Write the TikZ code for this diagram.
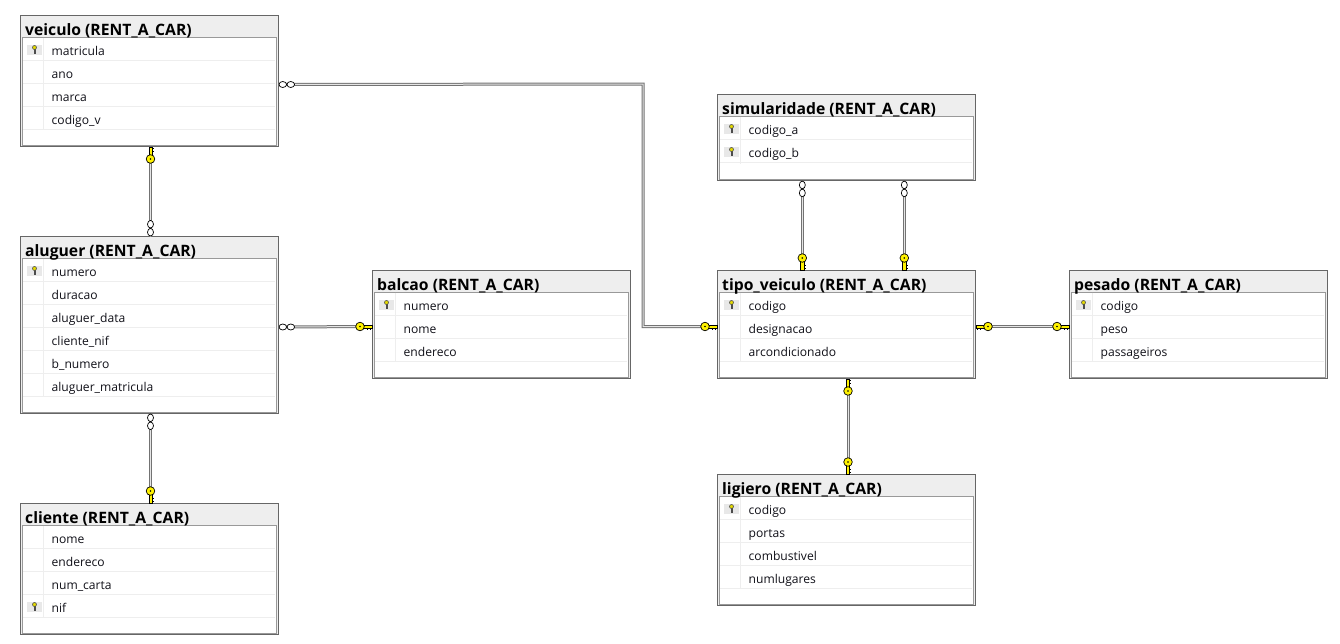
\documentclass[tikz,border=0pt]{standalone}
\usepackage{fontspec}
\setmainfont{Open Sans}
\usetikzlibrary{positioning}
\definecolor{headgray}{HTML}{EEEEEE}
\definecolor{framegray}{HTML}{666666}
\definecolor{innergray}{HTML}{999999}
\definecolor{keyyellow}{HTML}{FFF200}
\definecolor{icongray}{HTML}{E8E8E8}
\definecolor{inkblack}{HTML}{101018}

\tikzset{
    tablebox/.style={rectangle, draw=framegray, line width=1pt, fill=headgray, minimum width=258pt, anchor=north west, inner sep=0pt, outer sep=0pt},
    titletext/.style={anchor=base west, inner sep=0pt, font=\fontsize{15.7}{18}\selectfont\bfseries, text=black},
    rowtext/.style={anchor=base west, inner sep=0pt, font=\fontsize{12.1}{14}\selectfont, text=inkblack},
    relation/.style={draw=black!55, line width=1pt, double=white!90!black, double distance=1pt},
    infend/.pic={
        \draw[black, fill=white, line width=0.7pt] (4.3pt,0) ellipse (3.8pt and 3pt);
        \draw[black, fill=white, line width=0.7pt] (12.3pt,0) ellipse (3.8pt and 3pt);
    },
    keyend/.pic={
        \fill[black] (1.5pt,-1pt) rectangle (2.6pt,-3.4pt);
        \fill[black] (4.5pt,-1pt) rectangle (5.6pt,-3.4pt);
        \draw[black, fill=keyyellow, line width=0.5pt] (0.5pt,-1.6pt) rectangle (9pt,1.6pt);
        \draw[black, fill=keyyellow, line width=0.7pt] (12.5pt,0) circle (4.3pt);
        \fill[black] (12.5pt,0) circle (0.9pt);
    },
    rowkey/.pic={
        \fill[icongray] (-7.5pt,-5pt) rectangle (7pt,5pt);
        \draw[black!70, fill=keyyellow!80!olive, line width=0.5pt] (-0.7pt,-4pt) rectangle (0.7pt,1pt);
        \fill[black!70] (0.7pt,-3.5pt) rectangle (1.8pt,-2.7pt);
        \draw[black!70, fill=keyyellow!80!olive, line width=0.6pt] (0,2pt) circle (2pt);
    },
}

% name, left, top, number of rows, title, rows
\newcommand{\dbtable}[6]{
    \node[tablebox, minimum height={39pt+23pt*#4}] (#1) at (#2,#3) {};
    \begin{scope}[shift={(#2,#3)}]
        \fill[white] (2,22) rectangle (256,{37+23*#4});
        \draw[innergray, line width=0.9pt] (2,22) rectangle (256,{37.5+23*#4});
        \node[titletext] (#1-title) at (4.5,20) {#5};
        \draw[headgray, line width=0.8pt] (23,22) -- (23,{22+23*#4});
        \foreach \rowname/\iskey [count=\n] in {#6} {
            \node[rowtext] (#1-row\n) at (31,{16.5+23*\n}) {\rowname};
            \draw[headgray, line width=0.8pt] (2.5,{22+23*\n}) -- (254,{22+23*\n});
            \ifnum\iskey=1
                \pic at (14,{11+23*\n}) {rowkey};
            \fi
        }
    \end{scope}
}

\begin{document}
\begin{tikzpicture}[x=1pt,y=-1pt]
    \useasboundingbox[fill=white] (0,0) rectangle (1340,643);

    % Tables
    \dbtable{veiculo}{20.5}{15.5}{4}{veiculo (RENT\_A\_CAR)}{matricula/1,ano/0,marca/0,codigo\_v/0}
    \dbtable{aluguer}{20.5}{236.5}{6}{aluguer (RENT\_A\_CAR)}{numero/1,duracao/0,aluguer\_data/0,cliente\_nif/0,b\_numero/0,aluguer\_matricula/0}
    \dbtable{cliente}{20.5}{503.5}{4}{cliente (RENT\_A\_CAR)}{nome/0,endereco/0,num\_carta/0,nif/1}
    \dbtable{balcao}{372.5}{270.5}{3}{balcao (RENT\_A\_CAR)}{numero/1,nome/0,endereco/0}
    \dbtable{simularidade}{717.5}{94.5}{2.05}{simularidade (RENT\_A\_CAR)}{codigo\_a/1,codigo\_b/1}
    \dbtable{tipoveiculo}{717.5}{270.5}{3}{tipo\_veiculo (RENT\_A\_CAR)}{codigo/1,designacao/0,arcondicionado/0}
    \dbtable{pesado}{1069.5}{270.5}{3}{pesado (RENT\_A\_CAR)}{codigo/1,peso/0,passageiros/0}
    \dbtable{ligiero}{717.5}{474.5}{4}{ligiero (RENT\_A\_CAR)}{codigo/1,portas/0,combustivel/0,numlugares/0}

    % Connector ends
    \coordinate (veiculoout) at ([yshift=-3.5pt]veiculo.east);
    \coordinate (tipoin) at ([yshift=-2pt]tipoveiculo.west);
    \coordinate (bend) at (643,84);
    \coordinate (simleft) at ([xshift=-44.2pt]simularidade.south);
    \coordinate (simright) at ([xshift=57.8pt]simularidade.south);
    \coordinate (tipoleft) at ([xshift=-44.2pt]tipoveiculo.north);
    \coordinate (tiporight) at ([xshift=57.8pt]tipoveiculo.north);
    \coordinate (veiculodown) at ([xshift=1pt]veiculo.south);
    \coordinate (aluguerup) at ([xshift=1pt]aluguer.north);
    \coordinate (aluguerdown) at ([xshift=1pt]aluguer.south);
    \coordinate (clienteup) at ([xshift=1pt]cliente.north);
    \coordinate (aluguerright) at ([yshift=-2pt]aluguer.east);
    \coordinate (balcaoleft) at ([yshift=-2pt]balcao.west);
    \coordinate (tiporightside) at ([yshift=-2pt]tipoveiculo.east);
    \coordinate (pesadoleft) at ([yshift=-2pt]pesado.west);
    \coordinate (tipodown) at ([xshift=1.5pt]tipoveiculo.south);
    \coordinate (ligieroup) at ([xshift=1.5pt]ligiero.north);

    % Lines
    \draw[relation] (veiculoout) -- (bend) |- (tipoin);
    \draw[relation] (veiculodown) -- (aluguerup);
    \draw[relation] (aluguerdown) -- (clienteup);
    \draw[relation] (aluguerright) -- (balcaoleft);
    \draw[relation] (simleft) -- (tipoleft);
    \draw[relation] (simright) -- (tiporight);
    \draw[relation] (tiporightside) -- (pesadoleft);
    \draw[relation] (tipodown) -- (ligieroup);

    % Markers
    \pic at (veiculoout) {infend};
    \pic[rotate=-90,yscale=-1] at (veiculodown) {keyend};
    \pic[rotate=90] at (aluguerup) {infend};
    \pic[rotate=-90] at (aluguerdown) {infend};
    \pic[rotate=90] at (clienteup) {keyend};
    \pic at (aluguerright) {infend};
    \pic[xscale=-1] at (balcaoleft) {keyend};
    \pic[xscale=-1] at (tipoin) {keyend};
    \pic[rotate=-90] at (simleft) {infend};
    \pic[rotate=-90] at (simright) {infend};
    \pic[rotate=90] at (tipoleft) {keyend};
    \pic[rotate=90] at (tiporight) {keyend};
    \pic at (tiporightside) {keyend};
    \pic[xscale=-1] at (pesadoleft) {keyend};
    \pic[rotate=-90,yscale=-1] at (tipodown) {keyend};
    \pic[rotate=90] at (ligieroup) {keyend};
\end{tikzpicture}
\end{document}
